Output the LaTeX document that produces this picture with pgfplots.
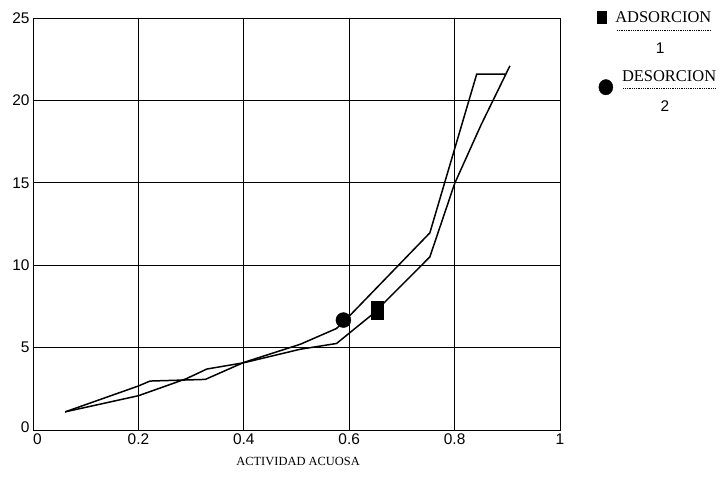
\documentclass[border=0pt]{standalone}
\usepackage{pgfplots}
\pgfplotsset{compat=1.18}
\usepackage{fontspec}
\setmainfont{Liberation Serif}
\setsansfont{Liberation Sans}
\begin{document}
\begin{tikzpicture}[x=1bp,y=1bp]
\path[use as bounding box] (-33,-65) rectangle (691,430);
\begin{axis}[
  at={(0,0)}, anchor=south west,
  scale only axis, width=527bp, height=412bp,
  xmin=0, xmax=1, ymin=0, ymax=25,
  xtick={0,0.2,0.4,0.6,0.8,1},
  xticklabels={\hspace{9bp}0,0.2,0.4,0.6,0.8,1},
  ytick={0,5,10,15,20,25},
  yticklabels={\raisebox{6bp}{0},5,10,15,20,25},
  grid=major,
  major grid style={black, line width=0.8pt},
  axis line style={black, line width=0.9pt},
  major tick length=0pt,
  tick label style={font=\sffamily\fontsize{15.5}{15.5}\selectfont},
  /pgf/number format/assume math mode=true,
  clip=false,
]
% curve 1
\addplot[black, line width=1.5pt, mark=none] coordinates {
(0.061,1.1) (0.2,2.67) (0.222,2.97) (0.327,3.07) (0.4,4.1) (0.507,5.2)
(0.576,6.16) (0.605,7.07) (0.753,11.96) (0.842,21.6) (0.896,21.6)};
% curve 2
\addplot[black, line width=1.5pt, mark=none] coordinates {
(0.061,1.1) (0.2,2.08) (0.29,3.1) (0.33,3.7) (0.4,4.08) (0.507,4.9)
(0.576,5.25) (0.646,7.07) (0.753,10.5) (0.8,14.95) (0.85,18.5) (0.905,22.1)};
% data markers
\addplot[only marks, mark=square*, mark size=9bp, mark options={xscale=0.67, black}] coordinates {(0.653,7.27)};
\addplot[only marks, mark=*, mark size=7.5bp, mark options={black}] coordinates {(0.589,6.67)};
% legend markers
\addplot[only marks, mark=square*, mark size=6bp, mark options={xscale=0.75, black}] coordinates {(1.080,25.06)};
\addplot[only marks, mark=*, mark size=7bp, mark options={yscale=1.1, black}] coordinates {(1.087,20.8)};
% legend text
\node[font=\fontsize{16.5}{16.5}\selectfont] at (axis cs:1.196,25.06) {ADSORCION};
\draw[densely dotted, line width=0.8pt] (axis cs:1.108,24.27) -- (axis cs:1.285,24.27);
\node[font=\sffamily\fontsize{15.5}{15.5}\selectfont] at (axis cs:1.19,23.18) {1};
\node[font=\fontsize{16.5}{16.5}\selectfont] at (axis cs:1.207,21.48) {DESORCION};
\draw[densely dotted, line width=0.8pt] (axis cs:1.12,20.75) -- (axis cs:1.294,20.75);
\node[font=\sffamily\fontsize{15.5}{15.5}\selectfont] at (axis cs:1.199,19.66) {2};
% x label
\node[font=\fontsize{12.5}{12.5}\selectfont] at (axis cs:0.503,-1.94) {ACTIVIDAD ACUOSA};
\end{axis}
\end{tikzpicture}
\end{document}
